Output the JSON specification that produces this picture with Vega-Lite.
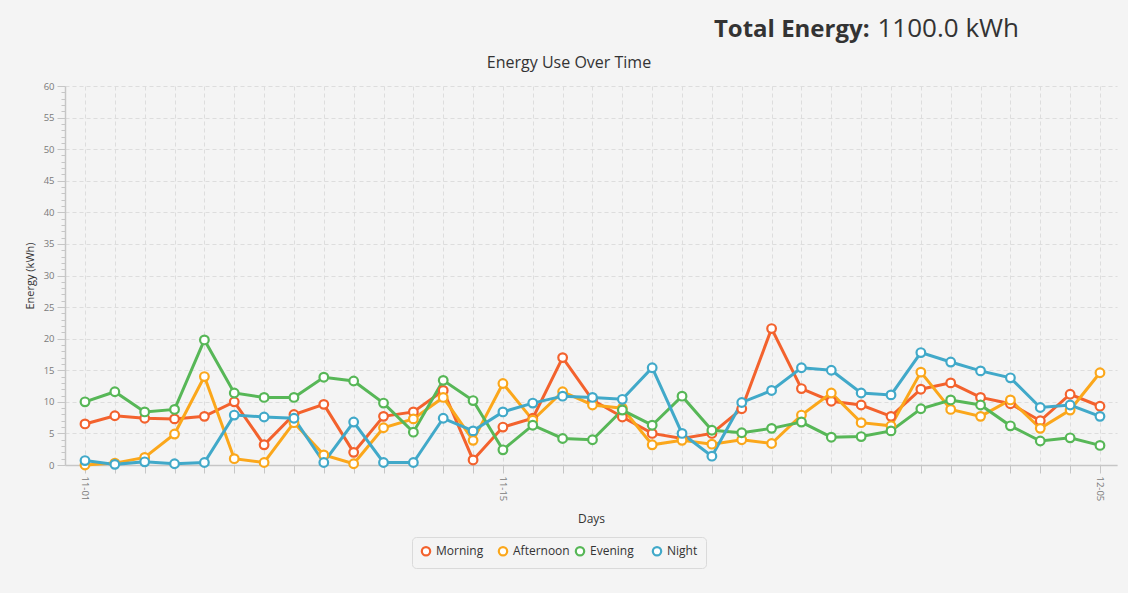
{
  "$schema": "https://vega.github.io/schema/vega-lite/v6.json",
  "width": 1052,
  "height": 379,
  "autosize": {"type": "none"},
  "padding": {"left": 65, "top": 86, "right": 11, "bottom": 128},
  "background": "#f4f4f4",
  "title": {"text": "Energy Use Over Time", "anchor": "middle", "dx": -22, "offset": -56, "fontSize": 16, "fontWeight": "normal", "color": "#333333", "font": "Open Sans"},
  "config": {"font": "Open Sans", "view": {"stroke": null}},
  "data": {"values": [
    {"day":"11-01","series":"Morning","value":6.5},{"day":"11-01","series":"Afternoon","value":0.0},{"day":"11-01","series":"Evening","value":10.0},{"day":"11-01","series":"Night","value":0.7},
    {"day":"11-02","series":"Morning","value":7.8},{"day":"11-02","series":"Afternoon","value":0.3},{"day":"11-02","series":"Evening","value":11.6},{"day":"11-02","series":"Night","value":0.1},
    {"day":"11-03","series":"Morning","value":7.4},{"day":"11-03","series":"Afternoon","value":1.2},{"day":"11-03","series":"Evening","value":8.4},{"day":"11-03","series":"Night","value":0.5},
    {"day":"11-04","series":"Morning","value":7.3},{"day":"11-04","series":"Afternoon","value":4.9},{"day":"11-04","series":"Evening","value":8.8},{"day":"11-04","series":"Night","value":0.2},
    {"day":"11-05","series":"Morning","value":7.7},{"day":"11-05","series":"Afternoon","value":14.0},{"day":"11-05","series":"Evening","value":19.8},{"day":"11-05","series":"Night","value":0.4},
    {"day":"11-06","series":"Morning","value":10.0},{"day":"11-06","series":"Afternoon","value":1.0},{"day":"11-06","series":"Evening","value":11.4},{"day":"11-06","series":"Night","value":7.9},
    {"day":"11-07","series":"Morning","value":3.2},{"day":"11-07","series":"Afternoon","value":0.4},{"day":"11-07","series":"Evening","value":10.7},{"day":"11-07","series":"Night","value":7.6},
    {"day":"11-08","series":"Morning","value":8.0},{"day":"11-08","series":"Afternoon","value":6.7},{"day":"11-08","series":"Evening","value":10.7},{"day":"11-08","series":"Night","value":7.4},
    {"day":"11-09","series":"Morning","value":9.6},{"day":"11-09","series":"Afternoon","value":1.6},{"day":"11-09","series":"Evening","value":13.9},{"day":"11-09","series":"Night","value":0.4},
    {"day":"11-10","series":"Morning","value":2.0},{"day":"11-10","series":"Afternoon","value":0.2},{"day":"11-10","series":"Evening","value":13.3},{"day":"11-10","series":"Night","value":6.8},
    {"day":"11-11","series":"Morning","value":7.7},{"day":"11-11","series":"Afternoon","value":5.9},{"day":"11-11","series":"Evening","value":9.8},{"day":"11-11","series":"Night","value":0.4},
    {"day":"11-12","series":"Morning","value":8.4},{"day":"11-12","series":"Afternoon","value":7.3},{"day":"11-12","series":"Evening","value":5.2},{"day":"11-12","series":"Night","value":0.4},
    {"day":"11-13","series":"Morning","value":11.8},{"day":"11-13","series":"Afternoon","value":10.7},{"day":"11-13","series":"Evening","value":13.4},{"day":"11-13","series":"Night","value":7.4},
    {"day":"11-14","series":"Morning","value":0.8},{"day":"11-14","series":"Afternoon","value":3.9},{"day":"11-14","series":"Evening","value":10.2},{"day":"11-14","series":"Night","value":5.4},
    {"day":"11-15","series":"Morning","value":6.0},{"day":"11-15","series":"Afternoon","value":12.9},{"day":"11-15","series":"Evening","value":2.4},{"day":"11-15","series":"Night","value":8.4},
    {"day":"11-16","series":"Morning","value":7.4},{"day":"11-16","series":"Afternoon","value":7.1},{"day":"11-16","series":"Evening","value":6.3},{"day":"11-16","series":"Night","value":9.8},
    {"day":"11-17","series":"Morning","value":17.0},{"day":"11-17","series":"Afternoon","value":11.6},{"day":"11-17","series":"Evening","value":4.2},{"day":"11-17","series":"Night","value":10.9},
    {"day":"11-18","series":"Morning","value":10.3},{"day":"11-18","series":"Afternoon","value":9.5},{"day":"11-18","series":"Evening","value":4.0},{"day":"11-18","series":"Night","value":10.7},
    {"day":"11-19","series":"Morning","value":7.6},{"day":"11-19","series":"Afternoon","value":9.0},{"day":"11-19","series":"Evening","value":8.7},{"day":"11-19","series":"Night","value":10.4},
    {"day":"11-20","series":"Morning","value":5.0},{"day":"11-20","series":"Afternoon","value":3.2},{"day":"11-20","series":"Evening","value":6.3},{"day":"11-20","series":"Night","value":15.4},
    {"day":"11-21","series":"Morning","value":4.2},{"day":"11-21","series":"Afternoon","value":3.9},{"day":"11-21","series":"Evening","value":10.9},{"day":"11-21","series":"Night","value":5.0},
    {"day":"11-22","series":"Morning","value":5.0},{"day":"11-22","series":"Afternoon","value":3.3},{"day":"11-22","series":"Evening","value":5.5},{"day":"11-22","series":"Night","value":1.4},
    {"day":"11-23","series":"Morning","value":8.9},{"day":"11-23","series":"Afternoon","value":4.0},{"day":"11-23","series":"Evening","value":5.1},{"day":"11-23","series":"Night","value":9.9},
    {"day":"11-24","series":"Morning","value":21.6},{"day":"11-24","series":"Afternoon","value":3.4},{"day":"11-24","series":"Evening","value":5.8},{"day":"11-24","series":"Night","value":11.8},
    {"day":"11-25","series":"Morning","value":12.1},{"day":"11-25","series":"Afternoon","value":7.9},{"day":"11-25","series":"Evening","value":6.8},{"day":"11-25","series":"Night","value":15.4},
    {"day":"11-26","series":"Morning","value":10.1},{"day":"11-26","series":"Afternoon","value":11.4},{"day":"11-26","series":"Evening","value":4.4},{"day":"11-26","series":"Night","value":15.0},
    {"day":"11-27","series":"Morning","value":9.5},{"day":"11-27","series":"Afternoon","value":6.7},{"day":"11-27","series":"Evening","value":4.5},{"day":"11-27","series":"Night","value":11.4},
    {"day":"11-28","series":"Morning","value":7.7},{"day":"11-28","series":"Afternoon","value":6.2},{"day":"11-28","series":"Evening","value":5.4},{"day":"11-28","series":"Night","value":11.1},
    {"day":"11-29","series":"Morning","value":12.0},{"day":"11-29","series":"Afternoon","value":14.7},{"day":"11-29","series":"Evening","value":8.9},{"day":"11-29","series":"Night","value":17.8},
    {"day":"11-30","series":"Morning","value":13.0},{"day":"11-30","series":"Afternoon","value":8.8},{"day":"11-30","series":"Evening","value":10.3},{"day":"11-30","series":"Night","value":16.3},
    {"day":"12-01","series":"Morning","value":10.7},{"day":"12-01","series":"Afternoon","value":7.7},{"day":"12-01","series":"Evening","value":9.5},{"day":"12-01","series":"Night","value":14.9},
    {"day":"12-02","series":"Morning","value":9.7},{"day":"12-02","series":"Afternoon","value":10.3},{"day":"12-02","series":"Evening","value":6.2},{"day":"12-02","series":"Night","value":13.8},
    {"day":"12-03","series":"Morning","value":7.0},{"day":"12-03","series":"Afternoon","value":5.8},{"day":"12-03","series":"Evening","value":3.8},{"day":"12-03","series":"Night","value":9.1},
    {"day":"12-04","series":"Morning","value":11.2},{"day":"12-04","series":"Afternoon","value":8.7},{"day":"12-04","series":"Evening","value":4.3},{"day":"12-04","series":"Night","value":9.5},
    {"day":"12-05","series":"Morning","value":9.3},{"day":"12-05","series":"Afternoon","value":14.6},{"day":"12-05","series":"Evening","value":3.1},{"day":"12-05","series":"Night","value":7.7}
  ]},
  "layer": [
    {
      "mark": {"type": "line", "strokeWidth": 3},
      "encoding": {
        "x": {"field": "day", "type": "ordinal", "sort": null,
          "scale": {"type": "point", "padding": 0.62, "align": 0.54},
          "axis": {"orient": "bottom", "title": "Days", "labelAngle": 90, "labelAlign": "left", "labelBaseline": "middle",
            "labelExpr": "indexof(['11-01','11-15','12-05'], datum.label) >= 0 ? datum.label : ''",
            "labelOverlap": false, "tickSize": 8, "tickColor": "#c6c6c6", "domainColor": "#c6c6c6", "domainWidth": 1.5,
            "grid": true, "gridColor": "#dddddd", "gridDash": [4, 3], "labelFontSize": 9.5, "labelColor": "#7a7a7a", "labelPadding": 3,
            "titleFontSize": 12, "titleFontWeight": "normal", "titleColor": "#333333", "titlePadding": 13}},
        "y": {"field": "value", "type": "quantitative",
          "scale": {"domain": [0, 60], "nice": false, "zero": true},
          "axis": {"orient": "left", "values": [0, 5, 10, 15, 20, 25, 30, 35, 40, 45, 50, 55, 60], "title": "Energy (kWh)",
            "tickSize": 8, "tickColor": "#c6c6c6", "domainColor": "#c6c6c6", "domainWidth": 1.5,
            "grid": true, "gridColor": "#dddddd", "gridDash": [4, 3], "labelFontSize": 9.5, "labelColor": "#7a7a7a", "labelPadding": 3,
            "titleFontSize": 11, "titleFontWeight": "normal", "titleColor": "#333333", "titlePadding": 8}},
        "color": {"field": "series", "type": "nominal",
          "scale": {"domain": ["Morning", "Afternoon", "Evening", "Night"], "range": ["#f3622d", "#fba71b", "#57b757", "#41a9c9"]},
          "legend": {"orient": "none", "legendX": 347, "legendY": 451, "direction": "horizontal", "columns": 4, "gridAlign": "all",
            "title": null, "symbolType": "circle", "symbolSize": 70, "symbolStrokeWidth": 2.2, "symbolFillColor": "transparent",
            "labelFontSize": 12, "labelColor": "#333333", "fillColor": "#f4f4f4", "strokeColor": "#dadada", "padding": 8,
            "cornerRadius": 4, "columnPadding": 1, "labelOffset": 4}}
      }
    },
    {
      "mark": {"type": "point", "shape": "circle", "filled": false, "fill": "white", "size": 75, "strokeWidth": 2.2, "opacity": 1},
      "encoding": {
        "x": {"field": "day", "type": "ordinal", "sort": null,
          "axis": {"orient": "top", "title": "Total Energy:", "labels": false, "ticks": false, "domain": false, "grid": false,
            "titleFontSize": 24, "titleFontWeight": "bold", "titleColor": "#333333", "titleX": 804, "titleY": -50,
            "titleAlign": "right", "titleBaseline": "alphabetic", "titleAngle": 0}},
        "y": {"field": "value", "type": "quantitative",
          "axis": {"orient": "left", "values": [1,2,3,4,6,7,8,9,11,12,13,14,16,17,18,19,21,22,23,24,26,27,28,29,31,32,33,34,36,37,38,39,41,42,43,44,46,47,48,49,51,52,53,54,56,57,58,59],
            "labels": false, "domain": false, "grid": false, "tickSize": 4, "tickColor": "#c6c6c6",
            "title": "1100.0 kWh", "titleAngle": 0, "titleX": 812, "titleY": -50, "titleAlign": "left", "titleBaseline": "alphabetic",
            "titleFontSize": 26, "titleFontWeight": "normal", "titleColor": "#333333"}},
        "color": {"field": "series", "type": "nominal"}
      }
    }
  ],
  "resolve": {"axis": {"x": "independent", "y": "independent"}}
}
